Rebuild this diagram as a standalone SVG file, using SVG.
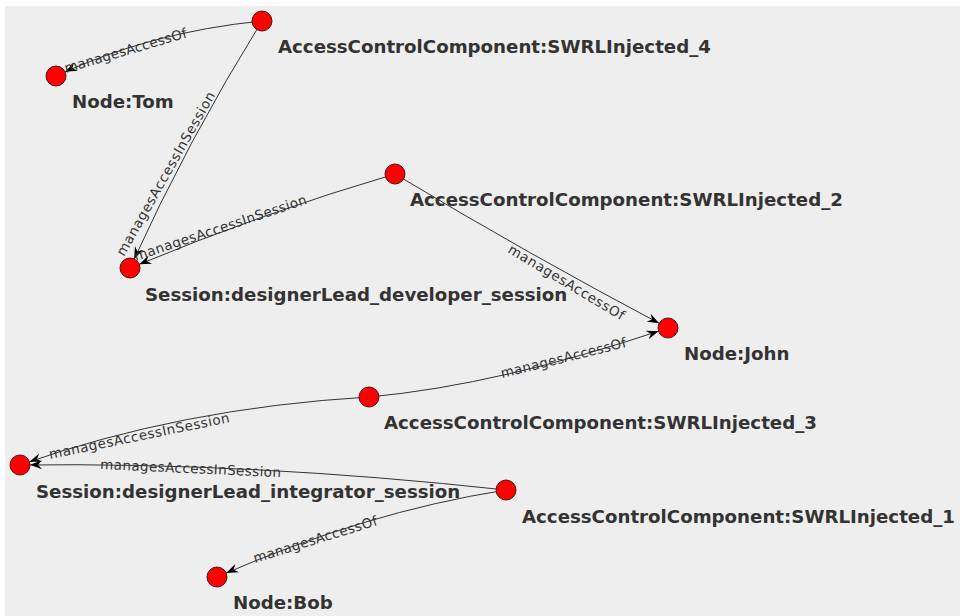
<svg xmlns="http://www.w3.org/2000/svg" width="960" height="616" viewBox="0 0 960 616">
<style>
.bg{fill:#eeeeee}
.node circle{fill:#ff0000;stroke:#5a1010;stroke-width:1}
.node text{font-family:"DejaVu Sans",sans-serif;font-weight:bold;font-size:18.2px;fill:#333333}
.edge{fill:none;stroke:#333333;stroke-width:1}
.elabel{font-family:"DejaVu Sans",sans-serif;font-size:13.5px;fill:#333333}
</style>
<defs>
<marker id="arr" viewBox="0 -5 22 10" refX="22" refY="0" markerWidth="22" markerHeight="10" markerUnits="userSpaceOnUse" orient="auto">
<path d="M0,-4.5 L12,0 L0,4.5 L4,0 Z" fill="#000000"/>
</marker>
</defs>
<rect x="0" y="0" width="960" height="616" fill="#ffffff"/>
<rect class="bg" x="5" y="6" width="955" height="610"/>
<g id="connectors">
<path class="edge" marker-end="url(#arr)" d="M262,21 Q150,32 56,76"/>
<path class="edge" marker-end="url(#arr)" d="M262,21 Q188,140 130,268"/>
<path class="edge" marker-end="url(#arr)" d="M395,174 Q265,212 130,268"/>
<path class="edge" marker-end="url(#arr)" d="M395,174 Q528,254 668,328"/>
<path class="edge" marker-end="url(#arr)" d="M369,397 Q500,385 668,328"/>
<path class="edge" marker-end="url(#arr)" d="M369,397 Q180,408 20,465"/>
<path class="edge" marker-end="url(#arr)" d="M506,490 Q250,462 20,465"/>
<path class="edge" marker-end="url(#arr)" d="M506,490 Q365,512 217,577"/>
<text class="elabel" transform="translate(66,73) rotate(-16.4)" textLength="127" lengthAdjust="spacing">managesAccessOf</text>
<text class="elabel" transform="translate(124,257) rotate(-60.5)" textLength="186" lengthAdjust="spacing">managesAccessInSession</text>
<text class="elabel" transform="translate(136,261) rotate(-18.5)" textLength="181" lengthAdjust="spacing">managesAccessInSession</text>
<text class="elabel" transform="translate(507,252) rotate(31)" textLength="133" lengthAdjust="spacing">managesAccessOf</text>
<text class="elabel" transform="translate(502,378) rotate(-14)" textLength="129" lengthAdjust="spacing">managesAccessOf</text>
<text class="elabel" transform="translate(50,459) rotate(-11.6)" textLength="184" lengthAdjust="spacing">managesAccessInSession</text>
<text class="elabel" transform="translate(100,469) rotate(2.6)" textLength="181" lengthAdjust="spacing">managesAccessInSession</text>
<text class="elabel" transform="translate(255,563) rotate(-17.2)" textLength="129" lengthAdjust="spacing">managesAccessOf</text>
</g>
<g id="acc4" class="node"><circle cx="262" cy="21" r="10"/><text x="278" y="53">AccessControlComponent:SWRLInjected_4</text></g>
<g id="tom" class="node"><circle cx="56" cy="76" r="10"/><text x="72" y="108">Node:Tom</text></g>
<g id="acc2" class="node"><circle cx="395" cy="174" r="10"/><text x="410" y="206">AccessControlComponent:SWRLInjected_2</text></g>
<g id="sessdev" class="node"><circle cx="130" cy="268" r="10"/><text x="145" y="301">Session:designerLead_developer_session</text></g>
<g id="john" class="node"><circle cx="668" cy="328" r="10"/><text x="684" y="360">Node:John</text></g>
<g id="acc3" class="node"><circle cx="369" cy="397" r="10"/><text x="384" y="429">AccessControlComponent:SWRLInjected_3</text></g>
<g id="sessint" class="node"><circle cx="20" cy="465" r="10"/><text x="36" y="498">Session:designerLead_integrator_session</text></g>
<g id="acc1" class="node"><circle cx="506" cy="490" r="10"/><text x="522" y="523">AccessControlComponent:SWRLInjected_1</text></g>
<g id="bob" class="node"><circle cx="217" cy="577" r="10"/><text x="233" y="609">Node:Bob</text></g>
</svg>
